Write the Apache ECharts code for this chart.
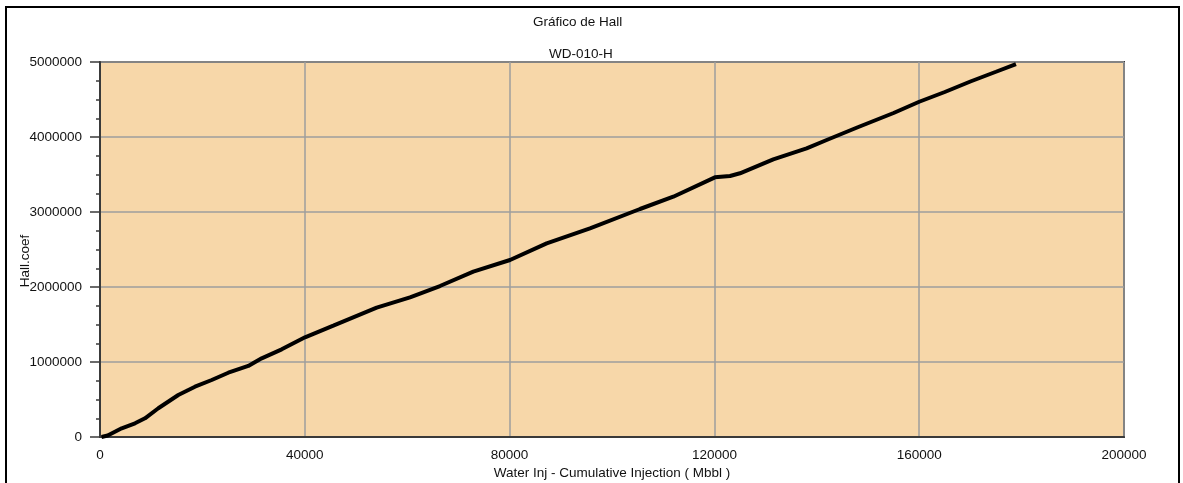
<!DOCTYPE html>
<html>
<head>
<meta charset="utf-8">
<script src="https://cdn.jsdelivr.net/npm/echarts@6/dist/echarts.min.js"></script>
<style>
html,body{margin:0;padding:0;background:#fff;}
#chart{width:1183px;height:483px;}
</style>
</head>
<body>
<div id="chart"></div>
<script>
const chartTitle = 'Gráfico de Hall';
const wellName = 'WD-010-H';
const xAxisTitle = 'Water Inj - Cumulative Injection ( Mbbl )';
const yAxisTitle = 'Hall.coef';

const cumInjection = [300, 1500, 4240, 6840, 8790, 11390, 15290, 18550, 21820, 25060, 28960, 31580, 35490, 40040, 45570, 54040, 60550, 66400, 72910, 80080, 87240, 95700, 105470, 111970, 120100, 123050, 125000, 131500, 138010, 141930, 148000, 155000, 160000, 165000, 170000, 175000, 178900];
const hallCoef = [0, 20000, 116000, 183000, 249000, 383000, 560000, 671000, 760000, 857000, 947000, 1049000, 1169000, 1329000, 1484000, 1724000, 1862000, 2013000, 2204000, 2360000, 2582000, 2782000, 3040000, 3204000, 3462000, 3480000, 3516000, 3702000, 3849000, 3960000, 4130000, 4320000, 4470000, 4600000, 4740000, 4870000, 4973000];

const FONT = '"Liberation Sans", Arial, sans-serif';
const TXT = '#111';
const chart = echarts.init(document.getElementById('chart'));
chart.setOption({
  animation: false,
  backgroundColor: '#ffffff',
  title: [
    {text: chartTitle, left: 533, top: 15, padding: 0,
     textStyle: {fontFamily: FONT, fontSize: 13.5, fontWeight: 'normal', color: TXT}},
    {text: wellName, left: 549, top: 47, padding: 0,
     textStyle: {fontFamily: FONT, fontSize: 13.5, fontWeight: 'normal', color: TXT}}
  ],
  graphic: [
    {type: 'rect', shape: {x: 6, y: 7, width: 1173, height: 500},
     style: {fill: 'none', stroke: '#000', lineWidth: 2}, silent: true, z: 100}
  ],
  grid: {left: 100, right: 59, top: 62, bottom: 46, show: true,
         containLabel: false, outerBoundsMode: 'none',
         backgroundColor: '#F7D7A9', borderColor: '#3a3a3a', borderWidth: 2},
  xAxis: {
    type: 'value', min: 0, max: 200000, interval: 40000,
    name: xAxisTitle, nameLocation: 'middle', nameGap: 29, nameMoveOverlap: false,
    nameTextStyle: {fontFamily: FONT, fontSize: 13.5, color: TXT},
    axisLine: {show: true, lineStyle: {color: '#3a3a3a', width: 2}},
    axisTick: {show: false},
    axisLabel: {margin: 11, fontFamily: FONT, fontSize: 13.5, color: TXT,
                formatter: v => String(v)},
    splitLine: {show: true, lineStyle: {color: '#9e9e9e', width: 1.5}}
  },
  yAxis: {
    type: 'value', min: 0, max: 5000000, interval: 1000000,
    name: yAxisTitle, nameLocation: 'middle', nameGap: 68, nameMoveOverlap: false,
    nameTextStyle: {fontFamily: FONT, fontSize: 13.5, color: TXT, padding: [0, 23, 0, 0]},
    axisLine: {show: true, lineStyle: {color: '#3a3a3a', width: 2}},
    axisTick: {show: true, length: 10, lineStyle: {color: '#3a3a3a', width: 1.5}},
    minorTick: {show: true, splitNumber: 4, length: 4, lineStyle: {color: '#3a3a3a', width: 1.5}},
    axisLabel: {margin: 18, fontFamily: FONT, fontSize: 13.5, color: TXT,
                formatter: v => String(v)},
    splitLine: {show: true, lineStyle: {color: '#9e9e9e', width: 1.5}}
  },
  series: [{
    type: 'line',
    data: cumInjection.map((x, i) => [x, hallCoef[i]]),
    showSymbol: false,
    lineStyle: {color: '#000', width: 4},
    z: 5
  }]
});
</script>
</body>
</html>
